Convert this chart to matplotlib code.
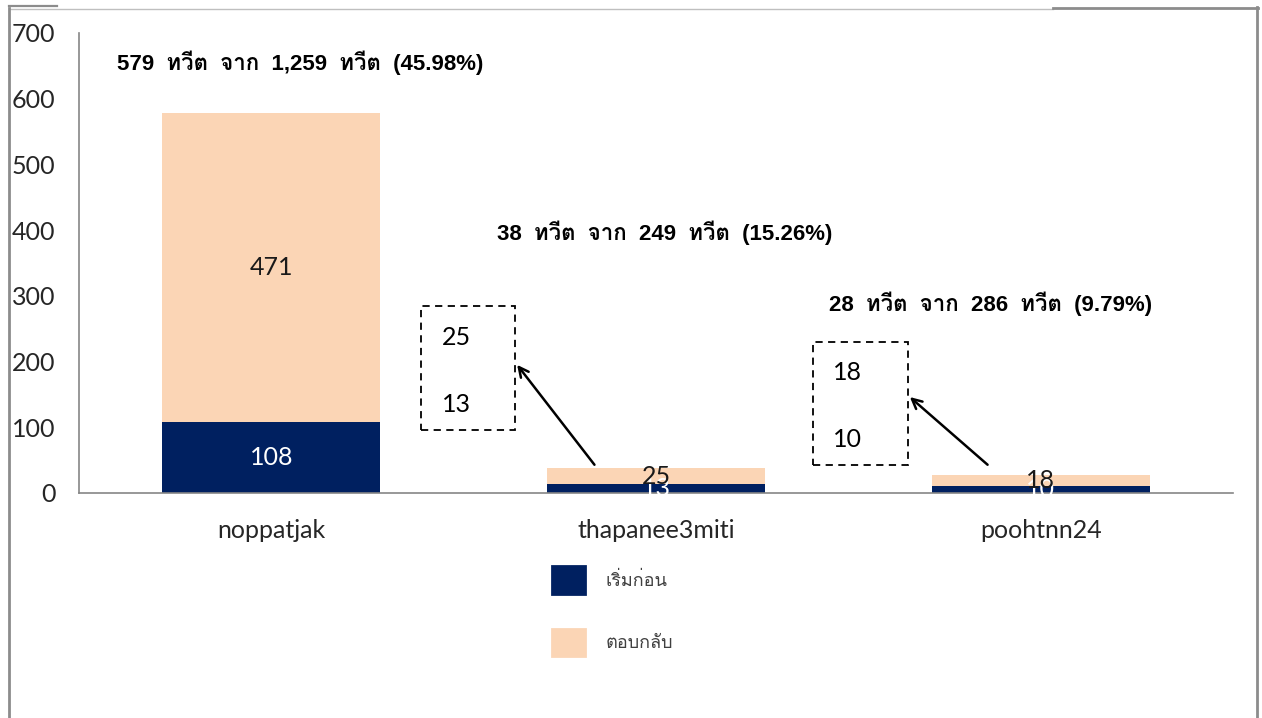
import matplotlib
matplotlib.use("Agg")
import matplotlib.pyplot as plt
from matplotlib import font_manager as fm
from matplotlib.ft2font import FT2Font
from matplotlib.lines import Line2D
from matplotlib.patches import Rectangle, Patch

# ---------------- data ----------------
categories = ["noppatjak", "thapanee3miti", "poohtnn24"]
started = [108, 13, 10]        # เริ่มก่อน
replied = [471, 25, 18]        # ตอบกลับ
all_tweets = [1259, 249, 286]
percents = ["45.98", "15.26", "9.79"]
series_names = ["เริ่มก่อน", "ตอบกลับ"]
yticks = [0, 100, 200, 300, 400, 500, 600, 700]

# ---------------- fonts ----------------
thai_font = None
for f in fm.fontManager.ttflist:
    try:
        cm = FT2Font(f.fname).get_charmap()
        if 0x0E17 in cm and 0x0E35 in cm and 0x0E01 in cm:
            thai_font = f.name
            break
    except Exception:
        pass
num_font = "Lato"
ann_family = ["Liberation Sans"] + ([thai_font] if thai_font else []) + ["DejaVu Sans"]
leg_family = ([thai_font] if thai_font else []) + ["DejaVu Sans"]

NAVY = "#002060"
PEACH = "#FBD5B5"
W, H = 1262, 718

fig = plt.figure(figsize=(W / 100, H / 100), dpi=100)
ax = fig.add_axes([79 / W, 1 - 493 / H, (1233 - 79) / W, (493 - 33) / H])

x = list(range(len(categories)))
width = 0.567
ax.bar(x, started, width, color=NAVY, label=series_names[0])
ax.bar(x, replied, width, bottom=started, color=PEACH, label=series_names[1])

ax.set_xlim(-0.5, 2.5)
ax.set_ylim(0, 700)
ax.set_yticks(yticks)
ax.set_yticklabels([str(v) for v in yticks], fontfamily=num_font, fontsize=18, color="#262626")
ax.set_xticks(x)
ax.set_xticklabels(categories, fontfamily=num_font, fontsize=18, color="#262626")
ax.tick_params(axis="both", length=0)
ax.tick_params(axis="y", pad=17)
ax.tick_params(axis="x", pad=19)
for s in ["top", "right"]:
    ax.spines[s].set_visible(False)
for s in ["left", "bottom"]:
    ax.spines[s].set_color("#868686")
    ax.spines[s].set_linewidth(1.2)

# bar value labels
for i in range(len(categories)):
    s, r = started[i], replied[i]
    ax.text(i, s / 2, str(s), ha="center", va="center", color="white",
            fontfamily=num_font, fontsize=18)
    ax.text(i, s + r / 2, str(r), ha="center", va="center", color="#1a1a1a",
            fontfamily=num_font, fontsize=18)

# summary annotations
ann_pos = [(-0.40, 654), (0.587, 396), (1.449, 288)]
for i, (tx, ty) in enumerate(ann_pos):
    tot = started[i] + replied[i]
    label = f"{tot} ทวีต จาก {all_tweets[i]:,} ทวีต ({percents[i]}%)".replace(" ", "  ")
    ax.text(tx, ty, label, ha="left", va="center", fontsize=16, fontweight="bold",
            family=ann_family, color="black")

# zoom boxes for small bars
boxes = [
    dict(idx=1, x0=0.390, x1=0.634, y0=96, y1=285, tx=0.481, ty_top=237, ty_bot=134,
         tail=(0.84, 43), head=(0.639, 195)),
    dict(idx=2, x0=1.408, x1=1.655, y0=43, y1=230, tx=1.499, ty_top=184, ty_bot=81,
         tail=(1.862, 43), head=(1.66, 146)),
]
for bx in boxes:
    ax.add_patch(Rectangle((bx["x0"], bx["y0"]), bx["x1"] - bx["x0"], bx["y1"] - bx["y0"],
                           fill=False, edgecolor="black", linestyle=(0, (4, 3)), linewidth=1.3,
                           clip_on=False))
    i = bx["idx"]
    ax.text(bx["tx"], bx["ty_top"], str(replied[i]), ha="center", va="center",
            fontfamily=num_font, fontsize=18, color="black")
    ax.text(bx["tx"], bx["ty_bot"], str(started[i]), ha="center", va="center",
            fontfamily=num_font, fontsize=18, color="black")
    ax.annotate("", xy=bx["head"], xytext=bx["tail"],
                arrowprops=dict(arrowstyle="->,head_length=0.7,head_width=0.35",
                                color="black", lw=1.8, shrinkA=0, shrinkB=0))

# legend
handles = [Patch(facecolor=NAVY, edgecolor=NAVY, joinstyle="round", linewidth=2),
           Patch(facecolor=PEACH, edgecolor=PEACH, joinstyle="round", linewidth=2)]
fig.legend(handles, series_names, loc="upper left", bbox_to_anchor=(552 / W, 1 - 566 / H),
           frameon=False, borderpad=0, borderaxespad=0, handlelength=1.85, handleheight=2.0,
           handletextpad=1.1, labelspacing=1.92,
           prop=fm.FontProperties(family=leg_family, size=13), labelcolor="#404040")

# outer frame lines (in figure pixel coordinates)
def fline(x0, y0, x1, y1, color, lw):
    fig.add_artist(Line2D([x0 / W, x1 / W], [1 - y0 / H, 1 - y1 / H],
                          transform=fig.transFigure, color=color, linewidth=lw))

fline(9, 9, 1053, 9, "#bfbfbf", 1.0)
fline(9, 6, 57, 6, "#8c8c8c", 1.6)
fline(1053, 7.5, 1258, 7.5, "#8c8c8c", 2.0)
fline(9, 8, 9, 718, "#8c8c8c", 2.0)
fline(1257, 7, 1257, 718, "#8c8c8c", 2.0)

fig.savefig("out.png", dpi=100)
